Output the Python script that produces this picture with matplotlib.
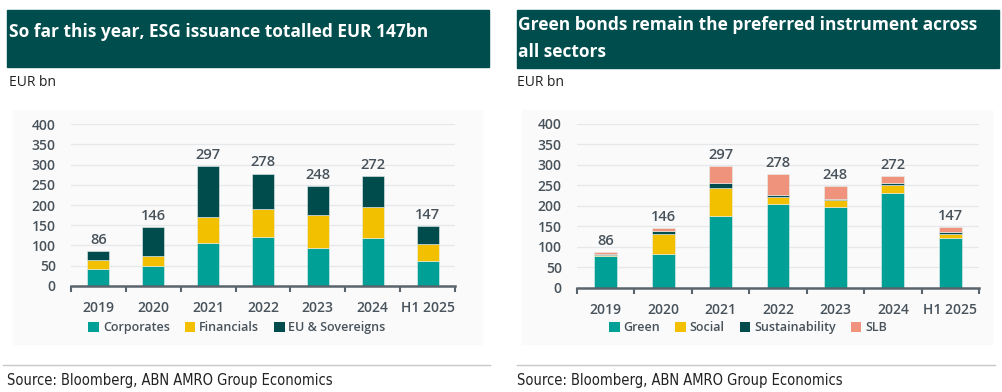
import matplotlib.pyplot as plt
from matplotlib.patches import Rectangle, Patch
from matplotlib.ticker import MultipleLocator
import numpy as np

years = ["2019", "2020", "2021", "2022", "2023", "2024", "H1 2025"]
totals = [86, 146, 297, 278, 248, 272, 147]

# left chart: by issuer
corporates = [41, 50, 106, 121, 94, 117, 60]
financials = [23, 24, 64, 70, 80, 77, 43]
eu_sovereigns = [22, 72, 127, 87, 74, 78, 44]

# right chart: by instrument
green = [77, 82, 174, 205, 197, 232, 122]
social = [3, 50, 70, 15, 16, 19, 10]
sustainability = [3, 6, 12, 6, 3, 5, 4]
slb = [3, 8, 41, 52, 32, 16, 11]

TEAL = "#00a097"
YELLOW = "#f3c000"
DARK = "#004c4c"
SALMON = "#f0937c"
TXT = "#47525b"
BANNER = "#004d4d"

W, H = 1002, 392
fig = plt.figure(figsize=(W / 100, H / 100), dpi=100)
fig.patch.set_facecolor("white")


def px_axes(x0, y0, x1, y1):
    # pixel box (top-left origin) -> figure axes
    return fig.add_axes([x0 / W, 1 - y1 / H, (x1 - x0) / W, (y1 - y0) / H])


def fig_rect(x0, y0, x1, y1, color):
    fig.patches.append(Rectangle((x0 / W, 1 - y1 / H), (x1 - x0) / W, (y1 - y0) / H,
                                 transform=fig.transFigure, color=color, zorder=-1))


def draw_panel(ax, series, colors, names, legend_x):
    x = np.arange(len(years))
    bottom = np.zeros(len(years))
    for vals, col in zip(series, colors):
        ax.bar(x, vals, width=0.4, bottom=bottom, color=col, edgecolor="#e8f0ef",
               linewidth=0.4, zorder=3)
        bottom += np.array(vals)
    for xi, t in zip(x, totals):
        ax.text(xi, t + 10, str(t), ha="center", va="bottom", fontsize=10.5,
                color=TXT, fontweight="semibold", family="Open Sans")
    ax.set_xlim(-0.5, len(years) - 0.5)
    ax.set_ylim(0, 400)
    ax.yaxis.set_major_locator(MultipleLocator(50))
    ax.set_facecolor("none")
    ax.grid(axis="y", color="#e6e9ec", linewidth=0.9, zorder=0)
    for s in ["top", "right", "left"]:
        ax.spines[s].set_visible(False)
    ax.spines["bottom"].set_color("#5a646c")
    ax.spines["bottom"].set_linewidth(1.8)
    ax.spines["bottom"].set_zorder(4)
    ax.set_xticks(x)
    ax.set_xticklabels(years)
    ax.set_xticks(np.arange(-0.5, len(years)), minor=True)
    ax.tick_params(axis="x", which="major", length=0, pad=11)
    ax.tick_params(axis="x", which="minor", length=4, width=1.5, color="#5a646c")
    ax.tick_params(axis="y", length=0, pad=11)
    for lab in ax.get_xticklabels() + ax.get_yticklabels():
        lab.set_fontsize(10)
        lab.set_color(TXT)
        lab.set_fontweight("semibold")
        lab.set_family("Open Sans")
    handles = [Patch(facecolor=c, edgecolor="none") for c in colors]
    fig.legend(handles, names, loc="center", bbox_to_anchor=(legend_x / W, 1 - 327.5 / H),
               ncol=len(names), frameon=False, handlelength=0.85, handleheight=0.85,
               handletextpad=0.3, columnspacing=1.2,
               prop={"family": "Open Sans", "weight": "semibold", "size": 9},
               labelcolor=TXT)


# light chart backgrounds
fig_rect(13, 110, 482, 344, "#fafafa")
fig_rect(522, 110, 992, 344, "#fafafa")

# title banners
fig_rect(7, 10, 489, 67, BANNER)
fig_rect(517, 10, 999, 68, BANNER)
fig.text(9 / W, 1 - 32 / H, "So far this year, ESG issuance totalled EUR 147bn",
         color="white", fontsize=12.5, fontweight="bold", family="Open Sans", va="center")
fig.text(518 / W, 1 - 25 / H, "Green bonds remain the preferred instrument across",
         color="white", fontsize=12.5, fontweight="bold", family="Open Sans", va="center")
fig.text(518 / W, 1 - 52 / H, "all sectors",
         color="white", fontsize=12.5, fontweight="bold", family="Open Sans", va="center")

fig.text(9 / W, 1 - 82 / H, "EUR bn", color="#222222", fontsize=10, family="Open Sans", va="center")
fig.text(517 / W, 1 - 82 / H, "EUR bn", color="#222222", fontsize=10, family="Open Sans", va="center")

ax1 = px_axes(71, 124.3, 455, 285.7)
draw_panel(ax1, [corporates, financials, eu_sovereigns], [TEAL, YELLOW, DARK],
           ["Corporates", "Financials", "EU & Sovereigns"], 237)

ax2 = px_axes(577, 123.7, 979, 287.7)
draw_panel(ax2, [green, social, sustainability, slb], [TEAL, YELLOW, DARK, SALMON],
           ["Green", "Social", "Sustainability", "SLB"], 748)

# source lines
for x0, x1 in [(3, 490), (517, 995)]:
    fig.add_artist(plt.Line2D([x0 / W, x1 / W], [1 - 365 / H] * 2, color="#c8c8c8",
                              linewidth=1, transform=fig.transFigure))
fig.text(7 / W, 1 - 380 / H, "Source: Bloomberg, ABN AMRO Group Economics",
         color="#222222", fontsize=10.5, family="DejaVu Sans", fontstretch="condensed",
         va="center")
fig.text(517 / W, 1 - 380 / H, "Source: Bloomberg, ABN AMRO Group Economics",
         color="#222222", fontsize=10.5, family="DejaVu Sans", fontstretch="condensed",
         va="center")

fig.savefig("out.png", dpi=100)
